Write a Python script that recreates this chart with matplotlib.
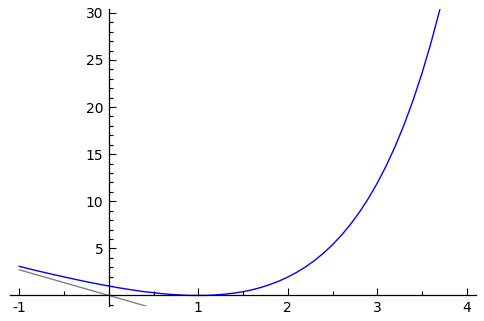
""" curve with tangent line, sage-style axes """
import matplotlib
matplotlib.use("Agg")
import matplotlib.pyplot as plt
from matplotlib.ticker import MultipleLocator, FuncFormatter

# curve values
curve_x = [-1.0, -0.9, -0.8, -0.7, -0.6, -0.5, -0.4, -0.3, -0.2, -0.1,
           0.0, 0.1, 0.2, 0.3, 0.4, 0.5, 0.6, 0.7, 0.8, 0.9,
           1.0, 1.1, 1.2, 1.3, 1.4, 1.5, 1.6, 1.7, 1.8, 1.9,
           2.0, 2.1, 2.2, 2.3, 2.4, 2.5, 2.6, 2.7, 2.8, 2.9,
           3.0, 3.1, 3.2, 3.3, 3.4, 3.5, 3.6, 3.7]
curve_y = [3.09, 2.85, 2.62, 2.40, 2.18, 1.97, 1.76, 1.56, 1.36, 1.18,
           1.00, 0.83, 0.68, 0.53, 0.40, 0.29, 0.19, 0.11, 0.05, 0.01,
           0.00, 0.01, 0.06, 0.14, 0.25, 0.40, 0.60, 0.85, 1.16, 1.52,
           1.95, 2.46, 3.04, 3.72, 4.50, 5.39, 6.40, 7.54, 8.83, 10.29,
           11.93, 13.77, 15.83, 18.14, 20.72, 23.60, 26.81, 30.39]

# straight gray line (end points)
line_x = [-1.0, 0.42]
line_y = [2.72, -1.14]

x_ticks = [-1, 1, 2, 3, 4]
y_ticks = [5, 10, 15, 20, 25, 30]


def main():
    """ main """
    plt.rcParams['axes.unicode_minus'] = False
    fig = plt.figure(figsize=(4.84, 3.21), dpi=100)
    ax = fig.add_axes([0.0207, 0.0467, 0.9622, 0.925])

    ax.plot(curve_x, curve_y, color=(0, 0, 1), lw=1.0)
    ax.plot(line_x, line_y, color=(0.5, 0.5, 0.5), lw=1.0)

    ax.set_xlim(-1.104, 4.1)
    ax.set_ylim(-1.12, 30.4)

    ax.spines['left'].set_position(('data', 0))
    ax.spines['bottom'].set_position(('data', 0))
    ax.spines['top'].set_visible(False)
    ax.spines['right'].set_visible(False)
    for s in ['left', 'bottom']:
        ax.spines[s].set_linewidth(0.9)

    ax.set_xticks(x_ticks)
    ax.set_yticks(y_ticks)
    ax.xaxis.set_minor_locator(MultipleLocator(0.5))
    ax.yaxis.set_minor_locator(MultipleLocator(1))
    fmt = FuncFormatter(lambda v, p: "%g" % v)
    ax.xaxis.set_major_formatter(fmt)
    ax.yaxis.set_major_formatter(fmt)
    ax.tick_params(which='major', direction='in', length=5, width=0.8,
                   labelsize=10, pad=4)
    ax.tick_params(which='minor', direction='in', length=3, width=0.8)
    ax.tick_params(axis='y', which='major', pad=4)

    fig.savefig("out.png", dpi=100)


if __name__ == "__main__":
    main()
